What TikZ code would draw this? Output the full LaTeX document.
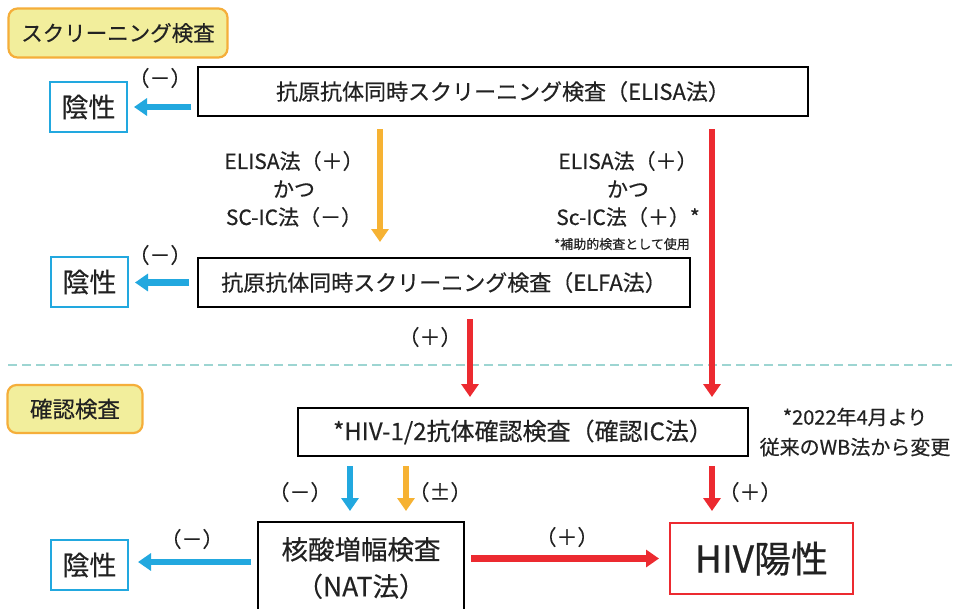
\documentclass[tikz,border=0pt]{standalone}
\usepackage{fontspec}
\setmainfont{Noto Sans CJK JP}[FakeBold=0.4]
\usetikzlibrary{arrows.meta}
\definecolor{cblue}{HTML}{22A8DF}
\definecolor{corange}{HTML}{F6B233}
\definecolor{cred}{HTML}{EC2A30}
\definecolor{tagfill}{HTML}{F2EE9C}
\definecolor{tagline}{HTML}{F5AE3A}
\definecolor{dashc}{HTML}{9DD5D2}
\definecolor{txt}{HTML}{222222}
\tikzset{
  every node/.style={text=txt, inner sep=0pt},
  tagbox/.style={draw=tagline, fill=tagfill, line width=2.2pt, rounded corners=9pt},
  mainbox/.style={draw=black, line width=2pt, fill=white, font=\fontsize{22}{26}\selectfont},
  negbox/.style={draw=cblue, line width=2pt, minimum width=77pt, minimum height=50pt, font=\fontsize{27}{32}\selectfont},
  lbl/.style={font=\fontsize{21}{28}\selectfont, align=center},
  sgn/.style={font=\fontsize{21}{24}\selectfont},
  note/.style={font=\fontsize{20}{30}\selectfont, align=center},
  arr/.style={line width=6.5pt, -{Triangle[length=13pt,width=17pt]}},
  barr/.style={arr, draw=cblue},
  oarr/.style={arr, draw=corange},
  rarr/.style={arr, draw=cred},
}
\begin{document}
\begin{tikzpicture}[x=1pt,y=-1pt]
\clip (0,0) rectangle (957,608);
\fill[white] (0,0) rectangle (957,608);
% tags
\node[tagbox, minimum width=219pt, minimum height=49pt, font=\fontsize{21.5}{26}\selectfont] (tag1) at (118,33) {スクリーニング検査};
\node[tagbox, minimum width=135pt, minimum height=48pt, font=\fontsize{22.5}{26}\selectfont] (tag2) at (75,409) {確認検査};
% dashed separator
\coordinate (dl) at (8,365);
\coordinate (dr) at (952,365);
\draw[dashc, line width=2pt, dash pattern=on 9pt off 5pt] (dl) -- (dr);
% main boxes
\node[mainbox, minimum width=610pt, minimum height=49pt] (b1) at (503,91.5) {抗原抗体同時スクリーニング検査（ELISA法）};
\node[mainbox, minimum width=492pt, minimum height=49pt] (b2) at (444,282.5) {抗原抗体同時スクリーニング検査（ELFA法）};
\node[mainbox, minimum width=450pt, minimum height=48pt, font=\fontsize{24}{28}\selectfont] (b3) at (523,432) {*HIV-1/2抗体確認検査（確認IC法）};
\node[mainbox, minimum width=206pt, minimum height=92pt, font=\fontsize{26.5}{37}\selectfont, align=center] (nat) at (361,568) {核酸増幅検査\\（NAT法）};
\node[draw=cred, line width=2pt, minimum width=183pt, minimum height=71pt, font=\fontsize{37}{42}\selectfont] (pos) at (761.5,558.5) {HIV陽性};
% negatives
\node[negbox] (n1) at (88.5,107) {陰性};
\node[negbox] (n2) at (89.5,282) {陰性};
\node[negbox] (n3) at (89.5,565) {陰性};
% x positions for vertical arrows
\coordinate (xo1) at (380,0);
\coordinate (xr1) at (712,0);
\coordinate (xr2) at (470,0);
\coordinate (xb3) at (350,0);
\coordinate (xo3) at (406,0);
% arrows
\draw[barr, shorten <=6pt, shorten >=6pt] ([yshift=-15.5pt]b1.west) -- ([yshift=-15.5pt]b1.west -| n1.east);
\draw[barr, shorten <=8pt, shorten >=6pt] (b2.west) -- (b2.west -| n2.east);
\draw[barr, shorten <=6pt, shorten >=9pt] ([yshift=6pt]nat.west) -- ([yshift=6pt]nat.west -| n3.east);
\draw[oarr, shorten <=12pt, shorten >=15pt] (b1.south -| xo1) -- (b2.north -| xo1);
\draw[rarr, shorten <=12pt, shorten >=10pt] (b1.south -| xr1) -- (b3.north -| xr1);
\draw[rarr, shorten <=11pt, shorten >=10pt] (b2.south -| xr2) -- (b3.north -| xr2);
\draw[barr, shorten <=9pt, shorten >=10pt] (b3.south -| xb3) -- (nat.north -| xb3);
\draw[oarr, shorten <=9pt, shorten >=10pt] (b3.south -| xo3) -- (nat.north -| xo3);
\draw[rarr, shorten <=9pt, shorten >=11pt] (b3.south -| xr1) -- (pos.north -| xr1);
\draw[rarr, shorten <=6pt, shorten >=10pt] (pos.west -| nat.east) -- (pos.west);
% sign labels
\node[sgn] (s1) at (160,78) {（－）};
\node[sgn] (s2) at (160,255) {（－）};
\node[sgn] (s3) at (192,539) {（－）};
\node[sgn] (s4) at (430,337) {（＋）};
\node[sgn] (s5) at (300,492) {（－）};
\node[sgn] (s6) at (440,492) {（±）};
\node[sgn] (s7) at (750,492) {（＋）};
\node[sgn] (s8) at (567,537) {（＋）};
% condition labels
\node[lbl] (c1) at (294,189) {ELISA法（＋）\\かつ\\SC-IC法（－）};
\node[lbl] (c2) at (628,189) {ELISA法（＋）\\かつ\\Sc-IC法（＋）*};
\node[font=\fontsize{13}{15}\selectfont] (c3) at (622,244) {*補助的検査として使用};
\node[note] (nt) at (855,432) {*2022年4月より\\従来のWB法から変更};
\end{tikzpicture}
\end{document}
